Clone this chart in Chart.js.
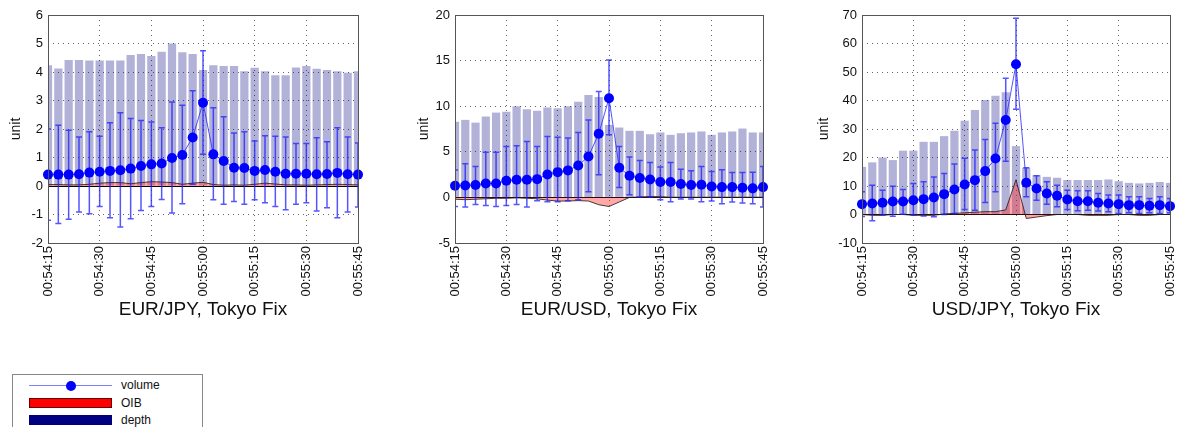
<!DOCTYPE html>
<html>
<head>
<meta charset="utf-8">
<script src="https://cdn.jsdelivr.net/npm/chart.js@4.4.1/dist/chart.umd.min.js"></script>
<style>
  body { margin: 0; background: #fff; width: 1178px; height: 427px; overflow: hidden; position: relative; font-family: "Liberation Sans", Arial, sans-serif; }
  canvas { position: absolute; top: 0; }
  #legend { position: absolute; left: 12px; top: 374px; width: 189px; height: 70px; border: 1px solid #888; background: #fff; }
  .row { position: absolute; left: 16px; height: 14px; font-size: 12px; color: #111; }
  .row span.txt { position: absolute; left: 92px; top: -1px; white-space: nowrap; }
  .sw { position: absolute; left: 0; width: 83px; }
</style>
</head>
<body>
<canvas id="c1" width="380" height="330" style="left:0px"></canvas>
<canvas id="c2" width="380" height="330" style="left:400px"></canvas>
<canvas id="c3" width="388" height="330" style="left:790px"></canvas>

<div id="legend">
  <div class="row" style="top:4px">
    <div class="sw" style="top:6px;height:1px;background:#8080ff"></div>
    <div class="sw" style="top:2px;left:37px;width:10px;height:10px;border-radius:50%;background:#0000ff"></div>
    <span class="txt">volume</span>
  </div>
  <div class="row" style="top:22px">
    <div class="sw" style="top:1px;height:10px;background:#ff0000;border:1px solid #600;box-sizing:border-box"></div>
    <span class="txt">OIB</span>
  </div>
  <div class="row" style="top:39px">
    <div class="sw" style="top:1px;height:10px;background:#000080"></div>
    <span class="txt">depth</span>
  </div>
</div>

<script>
const times = ['00:54:15','00:54:18','00:54:21','00:54:24','00:54:27','00:54:30','00:54:33','00:54:36',
  '00:54:39','00:54:42','00:54:45','00:54:48','00:54:51','00:54:54','00:54:57','00:55:00','00:55:03',
  '00:55:06','00:55:09','00:55:12','00:55:15','00:55:18','00:55:21','00:55:24','00:55:27','00:55:30',
  '00:55:33','00:55:36','00:55:39','00:55:42','00:55:45'];
const tickLabels = ['00:54:15','00:54:30','00:54:45','00:55:00','00:55:15','00:55:30','00:55:45'];

// EUR/JPY
const eurJpyVolume = [0.40,0.40,0.40,0.41,0.47,0.50,0.53,0.55,0.61,0.70,0.76,0.79,0.98,1.09,1.70,2.92,1.11,0.88,0.64,0.63,0.53,0.56,0.50,0.43,0.43,0.43,0.41,0.42,0.46,0.41,0.40];
const eurJpyHigh = [2.0,2.13,1.96,1.72,1.90,1.75,2.22,2.57,2.37,2.30,2.25,2.04,2.95,2.83,3.34,4.75,2.75,2.43,1.86,1.90,1.58,1.76,1.75,1.72,1.49,1.49,1.69,1.55,2.04,1.72,1.51];
const eurJpyLow = [-1.2,-1.32,-1.17,-0.91,-0.97,-0.72,-1.11,-1.44,-1.15,-0.86,-0.72,-0.47,-0.95,-0.62,0.06,1.11,-0.48,-0.64,-0.54,-0.64,-0.48,-0.59,-0.72,-0.83,-0.64,-0.59,-0.88,-0.76,-1.11,-0.91,-0.74];
const eurJpyDepth = [4.24,4.12,4.42,4.42,4.40,4.40,4.40,4.40,4.60,4.63,4.56,4.71,5.0,4.69,4.63,4.07,4.24,4.21,4.21,4.03,4.15,4.03,3.89,3.89,4.16,4.21,4.11,4.07,4.03,3.97,4.03];
const eurJpyOib = [0.05,0.05,0.04,0.04,0.06,0.10,0.12,0.12,0.08,0.12,0.15,0.14,0.12,0.06,0.10,0.13,0.05,0.03,0.04,0.03,0.06,0.10,0.07,0.04,0.04,0.03,0.04,0.05,0.06,0.05,0.04];

// EUR/USD
const eurUsdVolume = [1.28,1.31,1.35,1.53,1.53,1.82,1.93,1.93,2.0,2.52,2.77,2.96,3.5,4.49,6.97,10.88,3.25,2.37,2.12,1.97,1.68,1.68,1.46,1.35,1.39,1.2,1.13,1.13,1.06,0.99,1.13];
const eurUsdHigh = [3.0,3.69,3.39,4.96,4.96,5.58,5.66,6.13,5.58,6.68,6.6,6.5,7.12,8.5,11.6,15.07,5.58,4.42,4.05,3.83,3.32,3.83,3.1,2.92,3.39,2.85,3.03,2.74,2.74,2.77,3.39];
const eurUsdLow = [-1.0,-1.06,-0.77,-0.88,-0.99,-0.88,-0.77,-1.06,-0.36,-0.47,-0.47,-0.36,-0.26,0.62,2.48,6.86,1.09,0.29,0.04,0.04,-0.26,-0.47,-0.18,-0.18,-0.47,-0.4,-0.69,-0.51,-0.62,-0.69,-1.06];
const eurUsdDepth = [8.3,8.5,8.2,8.87,9.3,9.4,10.0,9.67,9.5,9.85,9.78,10.0,10.5,11.24,11.0,7.95,7.66,7.3,7.3,6.93,7.12,6.86,7.04,7.12,7.23,6.86,7.12,7.23,7.55,7.12,7.12];
const eurUsdOib = [-0.2,-0.25,-0.2,-0.15,-0.1,-0.1,-0.05,-0.1,-0.15,-0.3,-0.4,-0.4,-0.35,-0.4,-0.8,-1.0,-0.5,0.0,0.05,0.1,0.08,0.02,0.02,0.02,0.02,0.02,0.02,0.02,0.02,0.02,0.02];

// USD/JPY
const usdJpyVolume = [3.63,3.86,4.1,4.57,4.57,5.03,5.39,5.97,7.14,8.78,10.54,12.06,15.22,19.67,33.14,52.7,11.12,9.13,7.38,6.56,5.27,4.68,4.68,4.1,3.86,3.63,3.28,3.28,3.04,3.28,2.93];
const usdJpyHigh = [8.0,10.3,8.55,9.95,8.78,10.9,11.5,13.2,14.4,17.7,19.7,22.6,26.3,32,47.8,68.9,16.4,13.6,11.5,10.3,8.55,8.3,8.3,7.4,6.8,6.8,6.2,6.2,5.6,6.2,5.6];
const usdJpyLow = [-0.7,-2.2,-0.2,-0.6,0.1,-0.2,-0.5,-0.8,0,0.35,1.76,1.5,4.2,8,18.7,36.9,6.2,5.0,3.6,2.7,1.76,1.3,1.5,1.2,0.94,0.35,0.6,0.35,0.6,0.35,0.6];
const usdJpyDepth = [16.7,18.3,20.0,19.1,22.4,22.4,25.5,25.5,27.5,29.4,32.9,36.7,40.2,41.7,42.9,24.0,16.4,13.8,13.2,12.9,12.1,12.1,12.1,12.1,12.3,11.7,11.1,10.9,11.1,11.4,11.1];
const usdJpyOib = [0,-0.3,-0.3,0,0,-0.3,-0.3,-0.3,0.2,0.4,0.6,0.8,1.0,1.0,1.6,12.2,-1.4,-0.9,-0.4,0,0,0,-0.3,-0.3,-0.3,0,0,-0.3,-0.3,0,0];

const FONT = '"Liberation Sans", Arial, sans-serif';
const gridColor = 'rgba(0,0,0,0.6)';

// error bars for the volume series, drawn between the OIB area and the points
const errorBarPlugin = {
  id: 'errorBars',
  beforeDatasetDraw(chart, args) {
    if (args.index !== 0) return;
    const ds = chart.data.datasets[0];
    const x = chart.scales.x, y = chart.scales.y;
    const area = chart.chartArea;
    const ctx = chart.ctx;
    ctx.save();
    ctx.beginPath();
    ctx.rect(area.left, area.top, area.right - area.left, area.bottom - area.top);
    ctx.clip();
    ctx.strokeStyle = 'rgba(30,30,255,0.75)';
    ctx.lineWidth = 1.5;
    ds.errHigh.forEach((hi, i) => {
      const px = x.getPixelForValue(i);
      const top = y.getPixelForValue(hi);
      const bot = y.getPixelForValue(ds.errLow[i]);
      ctx.beginPath();
      ctx.moveTo(px, top); ctx.lineTo(px, bot);
      ctx.moveTo(px - 3, top); ctx.lineTo(px + 3, top);
      ctx.moveTo(px - 3, bot); ctx.lineTo(px + 3, bot);
      ctx.stroke();
    });
    ctx.restore();
  },
  afterDraw(chart) {
    const a = chart.chartArea;
    const ctx = chart.ctx;
    ctx.save();
    ctx.strokeStyle = '#555';
    ctx.lineWidth = 1;
    ctx.strokeRect(Math.round(a.left) + 0.5, Math.round(a.top) + 0.5, Math.round(a.right - a.left), Math.round(a.bottom - a.top));
    ctx.restore();
  }
};

function makePanel(id, title, volume, high, low, depth, oib, yMin, yMax, yStep, pad, yWidth) {
  const ctx = document.getElementById(id).getContext('2d');
  return new Chart(ctx, {
    data: {
      labels: times,
      datasets: [
        {
          type: 'line',
          label: 'volume',
          data: volume,
          errHigh: high,
          errLow: low,
          borderColor: 'rgba(40,40,255,0.8)',
          borderWidth: 1,
          pointRadius: 5,
          pointBackgroundColor: '#0000ff',
          pointBorderWidth: 0,
          tension: 0
        },
        {
          type: 'line',
          label: 'OIB',
          data: oib,
          fill: 'origin',
          backgroundColor: 'rgba(255,40,40,0.4)',
          borderColor: 'rgba(40,30,30,0.85)',
          borderWidth: 1,
          pointRadius: 0,
          tension: 0
        },
        {
          type: 'bar',
          label: 'depth',
          data: depth,
          backgroundColor: 'rgba(0,0,128,0.3)',
          borderWidth: 0,
          categoryPercentage: 1,
          barPercentage: 0.8
        }
      ]
    },
    options: {
      responsive: false,
      animation: false,
      layout: { padding: pad },
      plugins: { legend: { display: false }, tooltip: { enabled: false } },
      scales: {
        x: {
          type: 'category',
          offset: false,
          grid: {
            offset: false,
            drawTicks: false,
            color: c => tickLabels.includes(times[c.index]) ? gridColor : 'rgba(0,0,0,0)'
          },
          border: { display: false, dash: [1, 4] },
          ticks: {
            autoSkip: false,
            maxRotation: 90,
            minRotation: 90,
            padding: 3,
            color: '#111',
            font: { family: FONT, size: 13 },
            callback: (v, i) => tickLabels.includes(times[i]) ? times[i] : ''
          },
          title: {
            display: true,
            text: title,
            color: '#111',
            padding: { top: 0, bottom: 0 },
            font: { family: FONT, size: 19 }
          },
          afterFit: s => { s.height = 78; s.paddingLeft = 0; s.paddingRight = 0; }
        },
        y: {
          min: yMin,
          max: yMax,
          grid: {
            drawTicks: false,
            color: c => c.tick && c.tick.value === 0 ? '#000' : gridColor
          },
          border: {
            display: false,
            dash: c => c.tick && c.tick.value === 0 ? [] : [1, 4]
          },
          ticks: {
            stepSize: yStep,
            padding: 5,
            color: '#111',
            font: { family: FONT, size: 13 }
          },
          title: {
            display: true,
            text: 'unit',
            color: '#111',
            padding: { top: 4, bottom: 0 },
            font: { family: FONT, size: 14 }
          },
          afterFit: s => { s.width = yWidth; s.paddingTop = 0; s.paddingBottom = 0; }
        }
      }
    },
    plugins: [errorBarPlugin]
  });
}

makePanel('c1', 'EUR/JPY, Tokyo Fix', eurJpyVolume, eurJpyHigh, eurJpyLow, eurJpyDepth, eurJpyOib,
  -2, 6, 1, { left: 4, right: 22, top: 15, bottom: 9 }, 44);
makePanel('c2', 'EUR/USD, Tokyo Fix', eurUsdVolume, eurUsdHigh, eurUsdLow, eurUsdDepth, eurUsdOib,
  -5, 20, 5, { left: 12, right: 17, top: 15, bottom: 9 }, 43);
makePanel('c3', 'USD/JPY, Tokyo Fix', usdJpyVolume, usdJpyHigh, usdJpyLow, usdJpyDepth, usdJpyOib,
  -10, 70, 10, { left: 22, right: 8, top: 15, bottom: 9 }, 50);
</script>
</body>
</html>
